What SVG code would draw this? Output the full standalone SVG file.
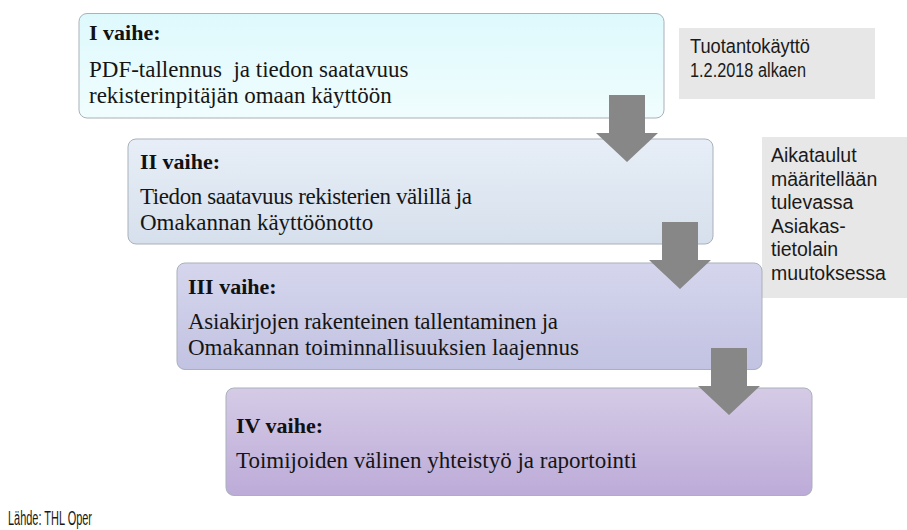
<svg xmlns="http://www.w3.org/2000/svg" width="907" height="530" viewBox="0 0 907 530">
<style>
.box{stroke:#a9b1ba;stroke-width:1}
.h{font-family:"Liberation Serif","Times New Roman",serif;font-weight:bold;font-size:22px;fill:#111}
.t{font-family:"Liberation Serif","Times New Roman",serif;font-size:23px;fill:#151515}
.n{font-family:"Liberation Sans",Arial,sans-serif;font-size:19.5px;fill:#1a1a1a}
.note{fill:#e7e7e7}
.arrow{fill:#878787}
</style>
<defs>
<linearGradient id="g1" x1="0" y1="0" x2="0" y2="1"><stop offset="0" stop-color="#def9fc"/><stop offset="1" stop-color="#f0fdfe"/></linearGradient>
<linearGradient id="g2" x1="0" y1="0" x2="0" y2="1"><stop offset="0" stop-color="#e7eef7"/><stop offset="1" stop-color="#d6e0ec"/></linearGradient>
<linearGradient id="g3" x1="0" y1="0" x2="0" y2="1"><stop offset="0" stop-color="#d5d6ed"/><stop offset="1" stop-color="#c2c2e2"/></linearGradient>
<linearGradient id="g4" x1="0" y1="0" x2="0" y2="1"><stop offset="0" stop-color="#d5cbe6"/><stop offset="1" stop-color="#bcabd8"/></linearGradient>
<path id="arr" d="M-18,0 H18 V38 H31 L0,67 L-31,38 H-18 Z"/>
</defs>

<g id="note1">
<rect class="note" x="679" y="28" width="196" height="71"/>
<text class="n" x="690" y="53" font-size="19.5" textLength="120" lengthAdjust="spacingAndGlyphs">Tuotantokäyttö</text>
<text class="n" x="690" y="77" font-size="19.5" textLength="116" lengthAdjust="spacingAndGlyphs">1.2.2018 alkaen</text>
</g>

<g id="note2">
<rect class="note" x="762" y="137" width="145" height="161"/>
<text class="n" x="771" y="162">Aikataulut</text>
<text class="n" x="771" y="185.5">määritellään</text>
<text class="n" x="771" y="209">tulevassa</text>
<text class="n" x="771" y="232.5">Asiakas-</text>
<text class="n" x="771" y="256">tietolain</text>
<text class="n" x="771" y="279.5">muutoksessa</text>
</g>

<g id="phase1">
<rect class="box" x="79" y="13.5" width="585" height="104.5" rx="8" fill="url(#g1)"/>
<text class="h" x="89" y="40">I vaihe:</text>
<text class="t" x="89" y="77" xml:space="preserve">PDF-tallennus  ja tiedon saatavuus</text>
<text class="t" x="89" y="103">rekisterinpitäjän omaan käyttöön</text>
</g>

<g id="phase2">
<rect class="box" x="128" y="139" width="585" height="105" rx="8" fill="url(#g2)"/>
<text class="h" x="140" y="169">II vaihe:</text>
<text class="t" x="140" y="204" textLength="332" lengthAdjust="spacing">Tiedon saatavuus rekisterien välillä ja</text>
<text class="t" x="140" y="229.5">Omakannan käyttöönotto</text>
</g>

<g id="phase3">
<rect class="box" x="177" y="263" width="585" height="106.5" rx="8" fill="url(#g3)"/>
<text class="h" x="188" y="294">III vaihe:</text>
<text class="t" x="188" y="329" textLength="370" lengthAdjust="spacing">Asiakirjojen rakenteinen tallentaminen ja</text>
<text class="t" x="188" y="355">Omakannan toiminnallisuuksien laajennus</text>
</g>

<g id="phase4">
<rect class="box" x="226" y="388" width="586" height="107.5" rx="8" fill="url(#g4)"/>
<text class="h" x="236" y="433">IV vaihe:</text>
<text class="t" x="236" y="468">Toimijoiden välinen yhteistyö ja raportointi</text>
</g>

<g id="connectors">
<use href="#arr" class="arrow" x="627" y="95"/>
<use href="#arr" class="arrow" x="680" y="222"/>
<use href="#arr" class="arrow" x="729" y="348"/>
</g>

<g id="source">
<text class="n" x="8" y="525" font-size="16" textLength="84" lengthAdjust="spacingAndGlyphs">Lähde: THL Oper</text>
</g>
</svg>
